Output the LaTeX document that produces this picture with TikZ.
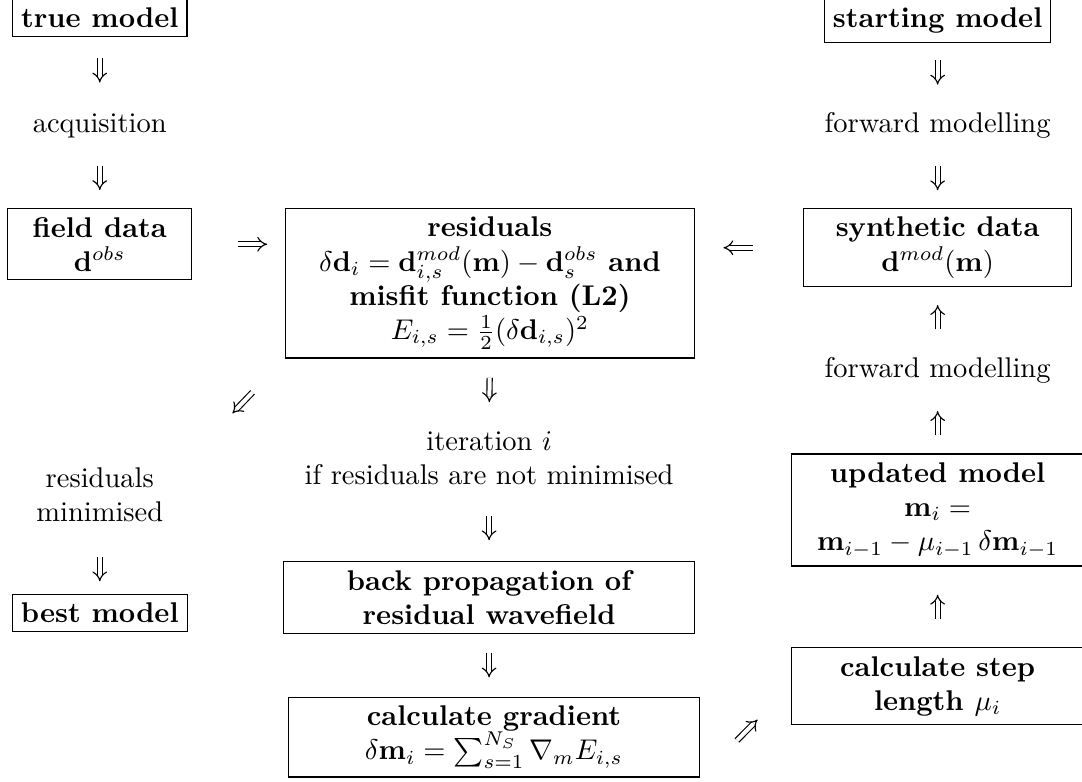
\documentclass[tikz,border=0pt]{standalone}
\usepackage{tikz}
\usetikzlibrary{arrows.meta, calc}
\usepackage{amsmath,amssymb}
\tikzset{
  box/.style={draw, line width=0.4pt, inner sep=3pt, align=flush center, font=\bfseries},
  txt/.style={align=flush center},
  dbl/.style={double, double distance=1.4pt, line width=0.4pt, -{Implies[length=3.2pt, width=5.4pt]}},
  hl/.store in=\halflen, hl=1.5mm,
  mid/.style={to path={($(\tikztostart)!#1!(\tikztotarget)$) coordinate (m)
      ($(m)!-\halflen!(\tikztotarget)$) -- ($(m)!\halflen!(\tikztotarget)$)}},
  mid/.default=0.5,
}
\begin{document}
\begin{tikzpicture}
\useasboundingbox (0,0) rectangle (13.34,-9.64);
\node[box, anchor=base] (truemod) at (1.23,-0.345) {true model};
\node[txt, anchor=base] (acq) at (1.23,-1.63) {acquisition};
\node[box, anchor=north, text width=2.06cm] (field) at (1.23,-2.565) {field data\\ $\mathbf{d}^{obs}$};
\node[txt] (resmin) at (1.23,-6.10) {residuals\\ minimised};
\node[box, anchor=base] (best) at (1.23,-7.68) {best model};
\node[box, anchor=north, text width=4.83cm] (resid) at (6.04,-2.565) {residuals\\
  $\delta\mathbf{d}_i = \mathbf{d}^{mod}_{i,s}(\mathbf{m}) - \mathbf{d}^{obs}_s$ and\\
  misfit function (L2)\\ $E_{i,s} = \frac{1}{2}(\delta\mathbf{d}_{i,s})^2$};
\node[txt] (iter) at (6.03,-5.65) {iteration $i$\\ if residuals are not minimised};
\node[box, anchor=north, text width=4.86cm] (back) at (6.03,-6.92) {back propagation of\\ residual wavefield};
\node[box, anchor=north, text width=4.86cm] (grad) at (6.09,-8.59) {calculate gradient\\
  $\delta\mathbf{m}_i = \sum_{s=1}^{N_S} \nabla_m E_{i,s}$};
\node[box, anchor=base] (startmod) at (11.56,-0.345) {starting model};
\node[txt, anchor=base] (fwd1) at (11.56,-1.63) {forward modelling};
\node[box, anchor=north, text width=3.10cm] (synth) at (11.56,-2.565) {synthetic data\\ $\mathbf{d}^{mod}(\mathbf{m})$};
\node[txt, anchor=base] (fwd2) at (11.56,-4.65) {forward modelling};
\node[box, anchor=north, text width=3.40cm] (upd) at (11.56,-5.59) {updated model\\ $\mathbf{m}_i =$\\
  $\mathbf{m}_{i-1} - \mu_{i-1}\,\delta\mathbf{m}_{i-1}$};
\node[box, anchor=north, text width=3.40cm] (step) at (11.56,-7.98) {calculate step\\ length $\mu_i$};
\draw[dbl] (truemod.south) to[mid] (acq.north);
\draw[dbl] (acq.south) to[mid] (field.north);
\draw[dbl, hl=1.8mm] (field.east) to[mid=0.65] (field.east -| resid.west);
\draw[dbl, hl=1.8mm] (synth.west) to[mid=0.6] (synth.west -| resid.east);
\draw[dbl, hl=1.8mm] (resid.south west) to[mid=0.38] (resmin.15);
\draw[dbl] (resmin.south) to[mid=0.6] (best.north);
\draw[dbl] (resid.south) to[mid] (iter.north);
\draw[dbl] (iter.south) to[mid] (back.north);
\draw[dbl] (back.south) to[mid] (back.south |- grad.north);
\draw[dbl, hl=1.8mm] (grad.south east) to[mid=0.52] (step.west);
\draw[dbl] (step.north) to[mid] (upd.south);
\draw[dbl] (upd.north) to[mid] (fwd2.south);
\draw[dbl] (fwd2.north) to[mid] (synth.south);
\draw[dbl] (startmod.south) to[mid] (fwd1.north);
\draw[dbl] (fwd1.south) to[mid] (synth.north);
\end{tikzpicture}
\end{document}
